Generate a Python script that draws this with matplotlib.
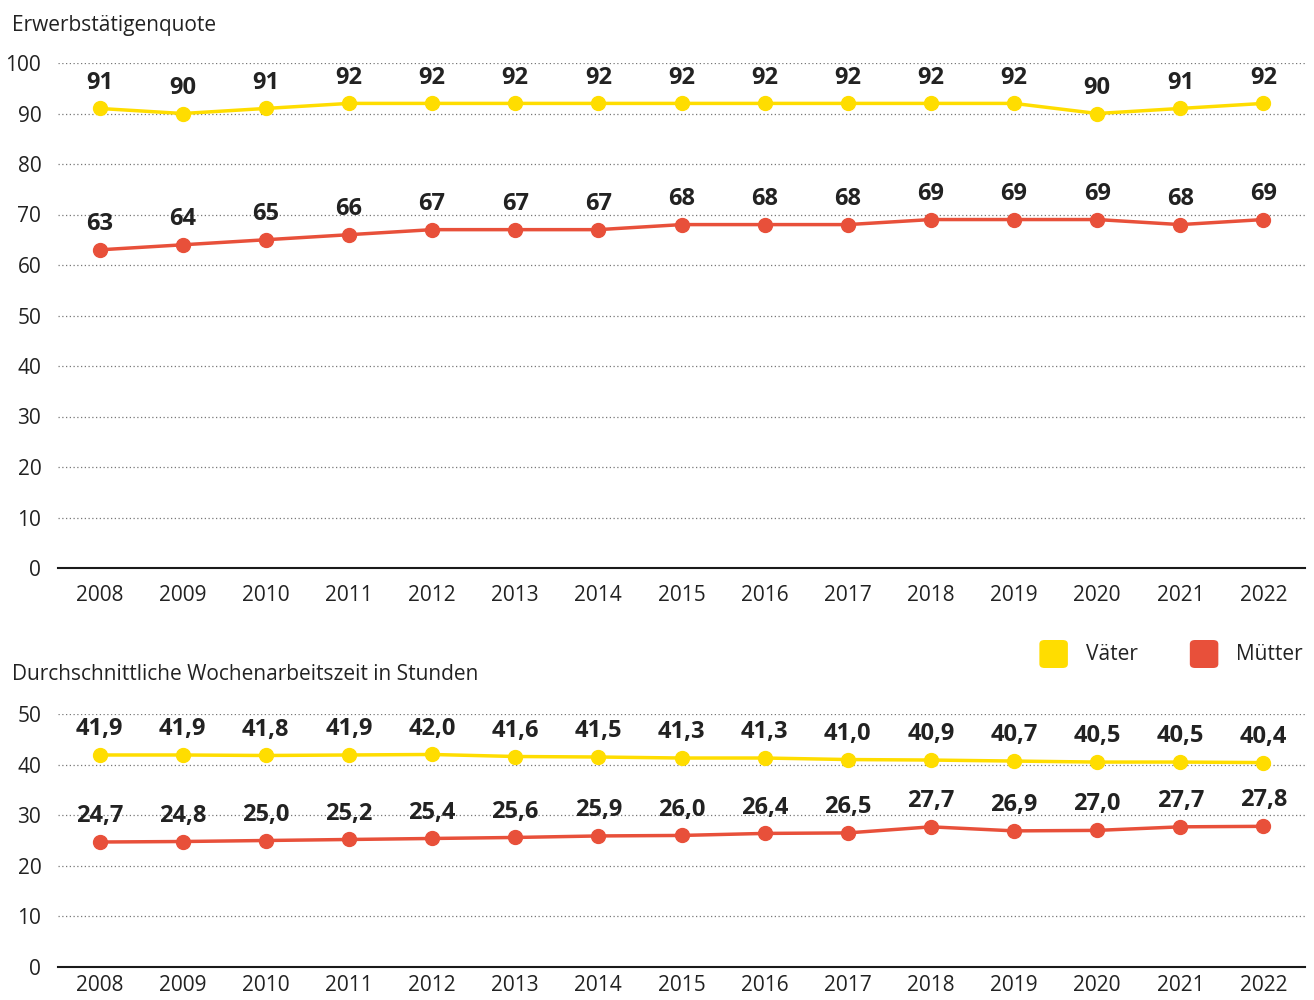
import matplotlib.pyplot as plt
from matplotlib.patches import FancyBboxPatch

plt.rcParams['font.family'] = ['Open Sans', 'DejaVu Sans']

years = [2008, 2009, 2010, 2011, 2012, 2013, 2014, 2015,
         2016, 2017, 2018, 2019, 2020, 2021, 2022]

# Erwerbstätigenquote (%)
quote_vaeter = [91, 90, 91, 92, 92, 92, 92, 92, 92, 92, 92, 92, 90, 91, 92]
quote_muetter = [63, 64, 65, 66, 67, 67, 67, 68, 68, 68, 69, 69, 69, 68, 69]

# Durchschnittliche Wochenarbeitszeit (Stunden)
zeit_vaeter = [41.9, 41.9, 41.8, 41.9, 42.0, 41.6, 41.5, 41.3,
               41.3, 41.0, 40.9, 40.7, 40.5, 40.5, 40.4]
zeit_muetter = [24.7, 24.8, 25.0, 25.2, 25.4, 25.6, 25.9, 26.0,
                26.4, 26.5, 27.7, 26.9, 27.0, 27.7, 27.8]

YELLOW = '#FFDD00'
RED = '#E8503A'
TEXT = '#222222'

fig = plt.figure(figsize=(13.14, 10), dpi=100)
ax1 = fig.add_axes([0.0441, 0.432, 0.9491, 0.505])
ax2 = fig.add_axes([0.0441, 0.033, 0.9491, 0.253])


def style_axis(ax, ymax, xpad):
    x = range(len(years))
    ax.set_xlim(-0.5, len(years) - 0.5)
    ax.set_ylim(0, ymax)
    ax.set_yticks(range(0, ymax + 1, 10))
    ax.set_xticks(list(x))
    ax.set_xticklabels([str(y) for y in years])
    for s in ['top', 'right', 'left']:
        ax.spines[s].set_visible(False)
    ax.spines['bottom'].set_color('#1a1a1a')
    ax.spines['bottom'].set_linewidth(1.5)
    ax.tick_params(axis='both', length=0, labelsize=15, colors=TEXT)
    ax.tick_params(axis='y', pad=12)
    ax.tick_params(axis='x', pad=xpad)
    for t in range(10, ymax + 1, 10):
        ax.axhline(t, color='#777777', linestyle=(0, (1, 2)), linewidth=0.9, zorder=0)


def draw_series(ax, values, color, fmt):
    x = list(range(len(values)))
    ax.plot(x, values, color=color, linewidth=2.5, marker='o', markersize=10,
            zorder=3, clip_on=False)
    for xi, v in zip(x, values):
        ax.annotate(fmt(v), (xi, v), xytext=(0, 10), textcoords='offset points',
                    ha='center', va='bottom', fontsize=17, fontweight='bold',
                    color=TEXT)


style_axis(ax1, 100, 12)
draw_series(ax1, quote_vaeter, YELLOW, lambda v: f'{v:d}')
draw_series(ax1, quote_muetter, RED, lambda v: f'{v:d}')

style_axis(ax2, 50, 6)
draw_series(ax2, zeit_vaeter, YELLOW, lambda v: f'{v:.1f}'.replace('.', ','))
draw_series(ax2, zeit_muetter, RED, lambda v: f'{v:.1f}'.replace('.', ','))

fig.text(0.009, 0.975, 'Erwerbstätigenquote', fontsize=15, color=TEXT, va='center')
fig.text(0.009, 0.326, 'Durchschnittliche Wochenarbeitszeit in Stunden',
         fontsize=15, color=TEXT, va='center')

# legend with rounded squares
for x0, color, label in [(0.795, YELLOW, 'Väter'), (0.9095, RED, 'Mütter')]:
    fig.patches.append(FancyBboxPatch((x0, 0.336), 0.0137, 0.020,
                                      boxstyle='round,pad=0.004',
                                      transform=fig.transFigure,
                                      facecolor=color, edgecolor='none'))
    fig.text(x0 + 0.0315, 0.346, label, fontsize=15, color=TEXT, va='center')

fig.savefig('out.png', dpi=100)
